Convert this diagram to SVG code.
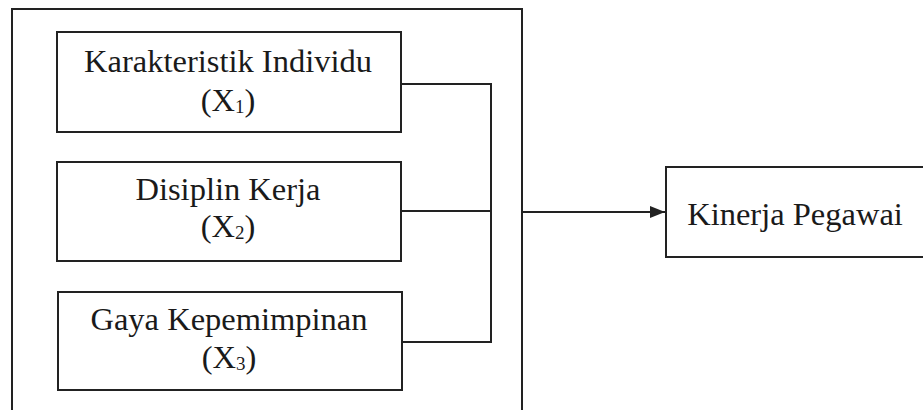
<svg xmlns="http://www.w3.org/2000/svg" width="923" height="410" viewBox="0 0 923 410">
<defs>
<style>
.b{fill:none;stroke:#222;stroke-width:2}
.c{fill:none;stroke:#222;stroke-width:2}
text{font-family:"Liberation Serif","Times New Roman",serif;font-size:32.5px;fill:#1a1a1a;text-anchor:middle}
.s{font-size:19px}
</style>
<marker id="ah" markerWidth="15" markerHeight="12" refX="15" refY="6" orient="auto" markerUnits="userSpaceOnUse" viewBox="0 0 15 12">
<path d="M0,0 L15,6 L0,12 Z" fill="#222"/>
</marker>
</defs>
<rect width="923" height="410" fill="#fff"/>
<g id="frame"><rect class="b" x="12" y="9" width="510" height="420"/></g>
<g id="n1"><rect class="b" x="57" y="32" width="344" height="100"/>
<text x="228" y="72">Karakteristik Individu</text>
<text x="228" y="111">(X<tspan class="s" dy="2">1</tspan><tspan dy="-2">)</tspan></text></g>
<g id="n2"><rect class="b" x="57" y="162" width="344" height="99"/>
<text x="228" y="200">Disiplin Kerja</text>
<text x="228" y="237">(X<tspan class="s" dy="2">2</tspan><tspan dy="-2">)</tspan></text></g>
<g id="n3"><rect class="b" x="58" y="292" width="344" height="98"/>
<text x="229" y="330">Gaya Kepemimpinan</text>
<text x="229" y="368">(X<tspan class="s" dy="2">3</tspan><tspan dy="-2">)</tspan></text></g>
<g id="n4"><rect class="b" x="666" y="167" width="270" height="90"/>
<text x="795" y="225">Kinerja Pegawai</text></g>
<g id="connectors">
<path class="c" d="M401,84 H491 V342 H402"/>
<path class="c" d="M401,211 H491"/>
<path class="c" d="M522,212 H665" marker-end="url(#ah)"/>
</g>
</svg>
